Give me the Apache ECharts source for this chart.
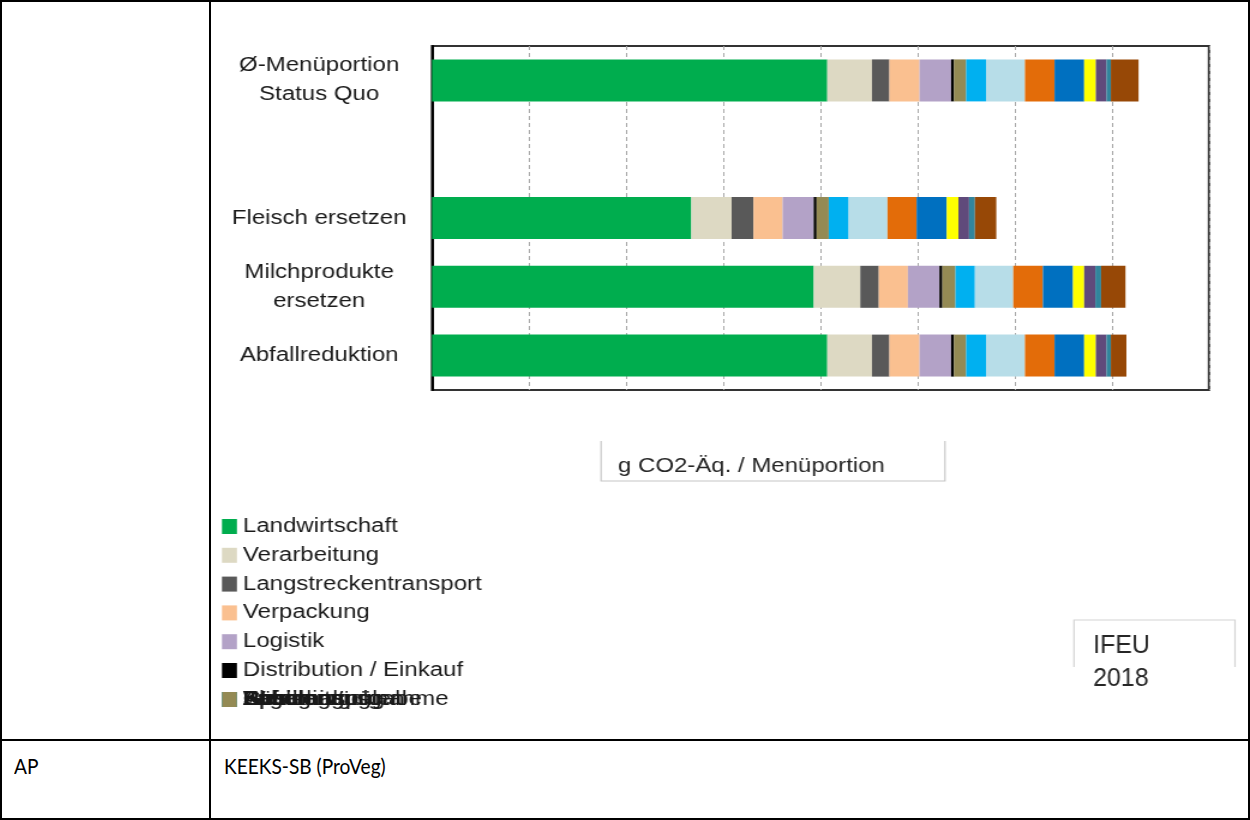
<!DOCTYPE html>
<html lang="de">
<head>
<meta charset="utf-8">
<title>Treibhausgasemissionen je Menüportion</title>
<script src="https://cdn.jsdelivr.net/npm/echarts@6/dist/echarts.min.js"></script>
<style>
  html, body { margin: 0; padding: 0; background: #fff; }
  #page { position: relative; width: 1250px; height: 820px; overflow: hidden; background: #fff; }
  .rule { position: absolute; background: #000; z-index: 5; }
  .cell { position: absolute; font-family: Lato, "Liberation Sans", sans-serif; font-size: 22px; color: #000;
          line-height: 26px; transform: scaleX(0.87); transform-origin: 0 0; white-space: nowrap; }
  /* chart graphic is stretched horizontally inside its table cell */
  #chart { position: absolute; left: 212px; top: 0; width: 862px; height: 739px;
           transform: scaleX(1.2); transform-origin: 0 0; }
</style>
</head>
<body>
<div id="page">
  <div id="chart"></div>
  <!-- table frame -->
  <div class="rule" style="left:0;top:0;width:1250px;height:2px"></div>
  <div class="rule" style="left:0;top:818px;width:1250px;height:2px"></div>
  <div class="rule" style="left:0;top:0;width:2px;height:820px"></div>
  <div class="rule" style="left:1248px;top:0;width:2px;height:820px"></div>
  <div class="rule" style="left:209px;top:0;width:2px;height:820px"></div>
  <div class="rule" style="left:0;top:739px;width:1250px;height:2px"></div>
  <div class="cell" style="left:14px;top:753px">AP</div>
  <div class="cell" style="left:224px;top:753px">KEEKS-SB (ProVeg)</div>
</div>
<script>
// Szenarien (eine leere Zeile trennt den Status quo von den Maßnahmen)
const categories = ['Ø-Menüportion\nStatus Quo', '', 'Fleisch ersetzen', 'Milchprodukte\nersetzen', 'Abfallreduktion'];

// Lebenszyklusabschnitte und ihre Farben
const stageNames = [
  'Landwirtschaft', 'Verarbeitung', 'Langstreckentransport', 'Verpackung', 'Logistik',
  'Distribution / Einkauf', 'Lagerung', 'Kühlung', 'Zubereitung', 'Warmhaltung',
  'Geschirrspülen', 'Speisenausgabe', 'Reinigung', 'Abfall', 'Speisenrücknahme'
];
const stageColors = [
  '#00ad4e', '#ddd9c3', '#595959', '#fac090', '#b3a2c7',
  '#000000', '#948a54', '#00b0f0', '#b7dde8', '#e36c09',
  '#0070c0', '#ffff00', '#604a7b', '#31859c', '#974806'
];

// g CO2-Äq. je Menüportion, Reihenfolge wie categories
const landwirtschaft   = [407,  null, 267,  393,  407];
const verarbeitung     = [46,   null, 41.5, 48,   46];
const langstrecke      = [18,   null, 22.5, 19,   18];
const verpackung       = [31,   null, 30,   30,   31];
const logistik         = [32.5, null, 32,   32.5, 32.5];
const distribution     = [3,    null, 3,    3,    3];
const lagerung         = [12.5, null, 12.5, 13.5, 12.5];
const kuehlung         = [20.5, null, 20.5, 20,   20.5];
const zubereitung      = [40,   null, 40,   39.5, 40];
const warmhaltung      = [30.5, null, 30,   30.5, 30.5];
const spuelen          = [30.5, null, 31,   31,   30.5];
const ausgabe          = [12,   null, 12,   11.5, 12];
const reinigung        = [11,   null, 11,   11.5, 11];
const abfall           = [4.5,  null, 6,    6,    4.5];
const ruecknahme       = [28.5, null, 22,   25,   16];

const stageValues = [
  landwirtschaft, verarbeitung, langstrecke, verpackung, logistik,
  distribution, lagerung, kuehlung, zubereitung, warmhaltung,
  spuelen, ausgabe, reinigung, abfall, ruecknahme
];

const FONT = '"Liberation Sans", Arial, sans-serif';
const TEXT_COLOR = '#1a1a1a';

const series = stageNames.map((name, i) => ({
  name: name,
  type: 'bar',
  stack: 'gesamt',
  barWidth: 42,
  itemStyle: { color: stageColors[i] },
  emphasis: { disabled: true },
  data: stageValues[i]
}));

const legendText = { fontSize: 20, fontFamily: FONT, color: TEXT_COLOR, lineHeight: 20 };

// first six entries as a column; the remaining entries share one row
const legends = [{
  orient: 'vertical', left: 8.3, top: 516.5, itemGap: 8.8, padding: 0,
  itemWidth: 12.5, itemHeight: 15, icon: 'rect', selectedMode: false,
  textStyle: legendText, data: stageNames.slice(0, 6)
}];
stageNames.slice(6).reverse().forEach(name => {
  legends.push({
    orient: 'vertical', left: 8.3, top: 689.5, padding: 0,
    itemWidth: 12.5, itemHeight: 15, icon: 'rect', selectedMode: false,
    textStyle: legendText, data: [name]
  });
});

const chart = echarts.init(document.getElementById('chart'));
chart.setOption({
  animation: false,
  backgroundColor: 'transparent',
  grid: {
    left: 183.3, right: 31.2, top: 46, bottom: 349,
    show: true, borderColor: '#333', borderWidth: 2
  },
  xAxis: {
    type: 'value', min: 0, max: 800, interval: 100,
    axisLine: { show: false }, axisTick: { show: false }, axisLabel: { show: false },
    splitLine: { show: true, lineStyle: { color: '#a6a6a6', width: 1, type: [4, 3] } }
  },
  yAxis: {
    type: 'category', inverse: true, data: categories,
    axisLine: { show: true, lineStyle: { color: '#000', width: 2 } },
    axisTick: { show: false },
    axisLabel: {
      fontSize: 20, fontFamily: FONT, color: TEXT_COLOR,
      align: 'center', margin: 94, lineHeight: 29, padding: [9, 0, 0, 0]
    }
  },
  legend: legends,
  graphic: [
    {
      type: 'polyline', silent: true,
      shape: { points: [[324.2, 441], [324.2, 481], [610.8, 481], [610.8, 441]] },
      style: { stroke: '#c6c6c6', lineWidth: 1.2, fill: null }
    },
    {
      type: 'text', silent: true, x: 338.3, y: 466,
      style: { text: 'g CO2-Äq. / Menüportion', font: '20px ' + FONT, fill: '#262626', verticalAlign: 'middle' }
    },
    {
      type: 'polyline', silent: true,
      shape: { points: [[718.3, 667], [718.3, 620], [852.5, 620], [852.5, 667]] },
      style: { stroke: '#d4d4d4', lineWidth: 1.2, fill: null }
    },
    {
      type: 'text', silent: true, x: 734.2, y: 630, scaleX: 1 / 1.2,
      style: { text: 'IFEU\n2018', font: '25px ' + FONT, fill: '#262626', lineHeight: 33, verticalAlign: 'top' }
    }
  ],
  series: series
});
</script>
</body>
</html>
